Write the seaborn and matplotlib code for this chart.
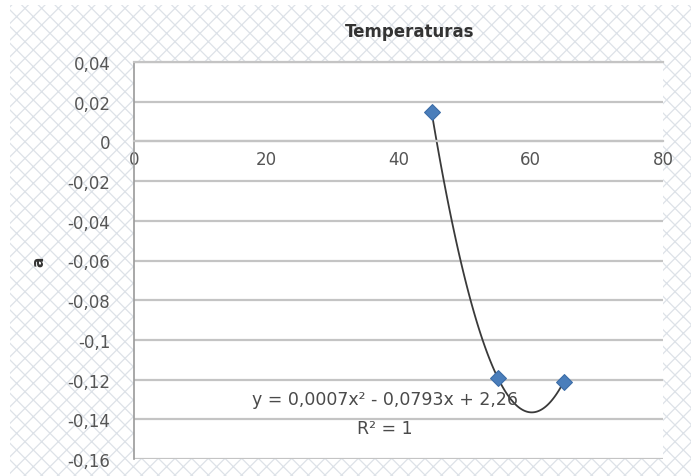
import numpy as np
import pandas as pd
import matplotlib
matplotlib.use("Agg")
import matplotlib.pyplot as plt
from matplotlib.patches import Rectangle
from matplotlib.ticker import FuncFormatter, MultipleLocator
import seaborn as sns

sns.set_style("white")
plt.rcParams['font.family'] = ['DejaVu Sans']
plt.rcParams['hatch.linewidth'] = 0.9

# data
temperatura = [45, 55, 65]
a_vals = [0.015, -0.119, -0.121]
titulo = "Temperaturas"
ecuacion = "y = 0,0007x² - 0,0793x + 2,26"
r2 = "R² = 1"

dat = pd.DataFrame({"temp": temperatura, "a": a_vals})

fig = plt.figure(figsize=(6.91, 4.77), dpi=100)
# hatched chart area like excel
bg = Rectangle((10 / 691, 0), 1, 1 - 6 / 477, transform=fig.transFigure,
               facecolor="white", edgecolor="#dde2e8", hatch="xx", lw=0, zorder=0)
fig.patches.append(bg)

ax = fig.add_axes([134 / 691, 17 / 477, 529 / 691, 397 / 477])
ax.set_facecolor("white")
ax.set_zorder(1)

sns.regplot(data=dat, x="temp", y="a", order=2, ci=None, truncate=True,
            scatter=False, ax=ax, line_kws=dict(color="#3a3a3a", lw=1.3))
sns.scatterplot(data=dat, x="temp", y="a", marker="D", s=65, color="#4a7ebb",
                edgecolor="#3d6ea8", linewidth=0.8, ax=ax, zorder=5)

ax.set_xlim(0, 80)
ax.set_ylim(-0.16, 0.04)
ax.xaxis.set_major_locator(MultipleLocator(20))
ax.yaxis.set_major_locator(MultipleLocator(0.02))


def excel_fmt(v, pos):
    s = f"{v:.2f}".rstrip("0").rstrip(".")
    if s in ("-0", "-0."):
        s = "0"
    return s.replace(".", ",")


ax.xaxis.set_major_formatter(FuncFormatter(lambda v, p: f"{v:.0f}"))
ax.yaxis.set_major_formatter(FuncFormatter(excel_fmt))

ax.grid(axis="y", color="#c4c4c4", lw=1.6)
ax.grid(axis="x", visible=False)
ax.set_axisbelow(True)
ax.spines["right"].set_visible(False)
ax.spines["top"].set_color("#c4c4c4")
ax.spines["top"].set_linewidth(1.6)
ax.spines["bottom"].set_position(("data", 0))
ax.spines["bottom"].set_color("#c4c4c4")
ax.spines["bottom"].set_linewidth(1.6)
ax.spines["left"].set_color("#9a9a9a")
ax.spines["left"].set_linewidth(1.2)

ax.tick_params(axis="x", length=0, pad=6, labelsize=12, labelcolor="#555555")
ax.tick_params(axis="y", length=0, pad=17, labelsize=12, labelcolor="#555555")

ax.set_xlabel("")
ax.set_ylabel("a", fontsize=11, fontweight="bold", color="#333333")
ax.yaxis.set_label_coords(-0.165, 0.5)

fig.text(410 / 691, 1 - 32 / 477, titulo, ha="center", va="center",
         fontsize=12, fontweight="bold", color="#333333")

ax.text(38, -0.130, ecuacion, ha="center", va="center", fontsize=12.5,
        color="#4a4a4a", zorder=4)
ax.text(38, -0.1445, r2, ha="center", va="center", fontsize=12.5,
        color="#4a4a4a", zorder=4)

fig.savefig("out.png", dpi=100)
